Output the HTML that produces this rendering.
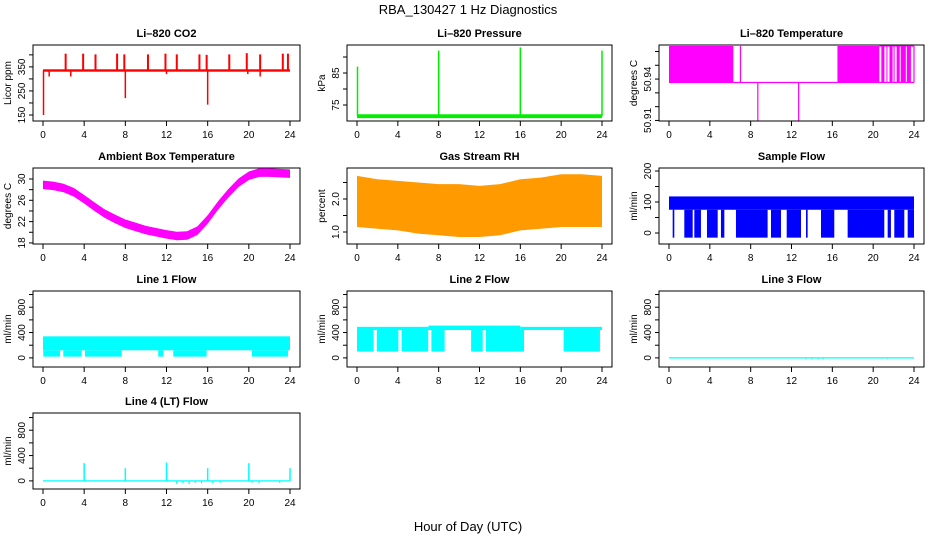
<!DOCTYPE html>
<html><head><meta charset="utf-8"><style>
html,body{margin:0;padding:0;background:#fff;}
svg{display:block;font-family:"Liberation Sans",sans-serif;}
</style></head><body>
<svg id="chart" width="936" height="540" viewBox="0 0 936 540" xmlns="http://www.w3.org/2000/svg">
<text x="468" y="14" font-size="13" text-anchor="middle">RBA_130427  1 Hz Diagnostics</text>
<text x="468" y="531" font-size="13" text-anchor="middle">Hour of Day (UTC)</text>
</svg>
<script>
// ---- data ----
const xTicks = [0,4,8,12,16,20,24];
const co2Base = 335;
const co2SpikeHours = [2.2,3.9,5.1,7.2,7.9,10.2,11.9,13.0,15.2,15.9,18.1,19.8,21.1,23.3,23.8];
const co2SpikeVals = [405,405,402,405,402,402,405,402,402,400,402,407,402,405,405];
const co2DipHours = [0.05,0.6,2.7,8.0,12.0,16.0,19.9,21.1];
const co2DipVals = [150,310,310,220,320,193,320,310];
const presBase = 71.5;
const presSpikeHours = [0.05,8.0,16.0,24.0];
const presSpikeVals = [87,92,93,92];
const tempBlockStart = [0,16.5,20.8,21.3,21.6,22.0,22.3,22.7,23.3];
const tempBlockEnd = [6.3,20.6,21.1,21.4,21.9,22.1,22.6,23.2,23.7];
const tempBase = 50.9375;
const tempTop = 50.964;
const tempDipHours = [8.7,12.7];
const tempDipVals = [50.91,50.91];
const tempUpHours = [7.0,24.0];
const tempUpVals = [50.964,50.964];
const ambHours = [0,1,2,3,4,5,6,7,8,9,10,11,12,13,14,15,16,17,18,19,20,21,22,23,24];
const ambVals = [28.9,28.7,28.3,27.5,26.2,24.8,23.5,22.5,21.6,21.0,20.4,20.0,19.6,19.3,19.4,20.3,22.4,25.0,27.3,29.3,30.6,31.2,31.2,31.1,31.0];
const rhHours = [0,2,4,6,8,10,12,14,16,18,20,22,24];
const rhHi = [2.7,2.6,2.55,2.5,2.45,2.45,2.4,2.45,2.6,2.65,2.75,2.75,2.7];
const rhLo = [1.15,1.1,1.05,0.95,0.9,0.85,0.85,0.9,1.05,1.1,1.15,1.15,1.15];
const sfHi = 118, sfLo = 75, sfMin = -15;
const sfDropStart = [0.36,1.5,2.48,3.72,5.09,6.56,9.99,11.53,13.42,14.89,17.5,21.42,22.07,23.38];
const sfDropEnd = [0.52,2.32,3.13,4.77,5.42,9.66,10.97,12.93,13.58,16.19,21.09,21.74,23.05,24.0];
const l1Hi = 340, l1Lo = 120, l1Min = 20;
const l1DropStart = [0.03,1.97,4.08,11.2,12.66,20.3];
const l1DropEnd = [1.65,3.76,7.65,11.7,15.9,23.8];
const l2HiHours = [0,7,16,24];
const l2HiVals = [490,510,490,480];
const l2BandLo = 440, l2Min = 100;
const l2DropStart = [0,1.94,4.37,7.29,11.18,12.63,20.24];
const l2DropEnd = [1.62,4.05,6.97,8.58,12.31,16.36,23.8];
const l4SpikeHours = [4.0,8.0,12.0,16.0,20.0,24.0];
const l4SpikeVals = [280,200,290,200,280,200];
const l4DipHours = [13.0,13.6,14.2,14.8,15.4,16.5,17.2,20.3,21.0,23.0];
const l4DipVals = [-50,-40,-50,-30,-40,-40,-30,-30,-40,-30];
const l3DipHours = [13.4,14.0,14.6,15.1,21.4];
const l3DipVals = [-20,-20,-20,-20,-15];

// ---- layout ----
const NS = "http://www.w3.org/2000/svg";
const svg = document.getElementById('chart');
const colL = [33,347,659], colR = [300,612,924];
const rowT = [45,168,291,413], BH = 76;
function el(tag, attrs, parent, text){
  const e = document.createElementNS(NS, tag);
  for (const k in attrs) e.setAttribute(k, attrs[k]);
  if (text !== undefined) e.textContent = text;
  (parent||svg).appendChild(e);
  return e;
}
function panel(name, col, row, title, ylab, yMin, yMax, ticks, labels){
  const g = el('g', {});
  
  
  const L = colL[col], R = colR[col], T = rowT[row], B = T + BH;
  const xs = h => L + 10 + h * (R - L - 20) / 24;
  const ys = v => B - (v - yMin) / (yMax - yMin) * BH;
  const t = el('text', {x:(L+R)/2, y:T-8, 'font-size':11, 'font-weight':'bold', 'text-anchor':'middle'}, g, title);
  
  
  const box = el('rect', {x:L, y:T, width:R-L, height:BH, fill:'none', stroke:'#000', 'stroke-width':1}, g);
  
  
  const xa = el('g', {}, g);
  
  
  el('line', {x1:xs(0), x2:xs(24), y1:B, y2:B, stroke:'#000'}, xa);
  xTicks.forEach(h => {
    el('line', {x1:xs(h), x2:xs(h), y1:B, y2:B+5, stroke:'#000'}, xa);
    el('text', {x:xs(h), y:B+17, 'font-size':10, 'text-anchor':'middle'}, xa, String(h));
  });
  const ya = el('g', {}, g);
  
  
  el('line', {x1:L, x2:L, y1:ys(ticks[0]), y2:ys(ticks[ticks.length-1]), stroke:'#000'}, ya);
  ticks.forEach((v,i) => {
    el('line', {x1:L-4, x2:L, y1:ys(v), y2:ys(v), stroke:'#000'}, ya);
    if (labels[i]) {
      const yy = ys(v);
      el('text', {x:L-8, y:yy, 'font-size':10, 'text-anchor':'middle', transform:`rotate(-90 ${L-8} ${yy})`}, ya, labels[i]);
    }
  });
  const yl = el('text', {x:L-22, y:(T+B)/2, 'font-size':10, 'text-anchor':'middle', transform:`rotate(-90 ${L-22} ${(T+B)/2})`}, g, ylab);
  
  
  const marks = el('g', {}, g);
  
  
  return {xs, ys, marks};
}
function vline(p, h, v1, v2, color, w){
  el('line', {x1:p.xs(h), x2:p.xs(h), y1:p.ys(v1), y2:p.ys(v2), stroke:color, 'stroke-width':w||1.5}, p.marks);
}
function hband(p, h1, h2, v1, v2, fill){
  el('rect', {x:p.xs(h1), y:p.ys(v2), width:p.xs(h2)-p.xs(h1), height:p.ys(v1)-p.ys(v2), fill:fill}, p.marks);
}

let p = panel('co2-panel',0,0,'Li\u2013820 CO2','Licor ppm',125,441,[150,200,250,300,350,400],['150','','250','','350','']);
hband(p,0,24,co2Base-5,co2Base+5,'#ff0000');
co2SpikeHours.forEach((h,i)=>vline(p,h,co2Base,co2SpikeVals[i],'#ff0000',2));
co2DipHours.forEach((h,i)=>vline(p,h,co2Base,co2DipVals[i],'#ff0000',1.5));

p = panel('pressure-panel',1,0,'Li\u2013820 Pressure','kPa',70,93.75,[75,80,85,90],['75','','85','']);
hband(p,0,24,presBase-0.6,presBase+0.6,'#00ee00');
presSpikeHours.forEach((h,i)=>vline(p,h,presBase,presSpikeVals[i],'#00ee00',1.5));

p = panel('li820-temp-panel',2,0,'Li\u2013820 Temperature','degrees C',50.9096,50.9647,[50.91,50.92,50.93,50.94,50.95,50.96],['50.91','','','50.94','','']);
el('line',{x1:p.xs(0),x2:p.xs(24),y1:p.ys(tempBase),y2:p.ys(tempBase),stroke:'#ff00ff','stroke-width':1.2},p.marks);
tempBlockStart.forEach((s,i)=>hband(p,s,tempBlockEnd[i],tempBase,tempTop,'#ff00ff'));
el('line',{x1:p.xs(20.6),x2:p.xs(24),y1:p.ys(tempTop),y2:p.ys(tempTop),stroke:'#ff00ff','stroke-width':1.2},p.marks);
tempDipHours.forEach((h,i)=>vline(p,h,tempBase,tempDipVals[i],'#ff00ff',1.2));
tempUpHours.forEach((h,i)=>vline(p,h,tempBase,tempUpVals[i],'#ff00ff',1.2));

p = panel('ambient-temp-panel',0,1,'Ambient Box Temperature','degrees C',17.8,32.06,[18,20,22,24,26,28,30],['18','','22','','26','','30']);
{
  let d = ambHours.map((h,i)=>`${p.xs(h)},${p.ys(ambVals[i]+0.8)}`).join(' ');
  let d2 = ambHours.slice().reverse().map((h,j)=>{const i=ambHours.length-1-j;return `${p.xs(h)},${p.ys(ambVals[i]-0.8)}`;}).join(' ');
  el('polygon',{points:d+' '+d2,fill:'#ff00ff'},p.marks);
}

p = panel('rh-panel',1,1,'Gas Stream RH','percent',0.636,2.94,[1.0,1.5,2.0,2.5],['1.0','','2.0','']);
{
  let d = rhHours.map((h,i)=>`${p.xs(h)},${p.ys(rhHi[i])}`).join(' ');
  let d2 = rhHours.slice().reverse().map((h,j)=>{const i=rhHours.length-1-j;return `${p.xs(h)},${p.ys(rhLo[i])}`;}).join(' ');
  el('polygon',{points:d+' '+d2,fill:'#ff9a00'},p.marks);
}

p = panel('sample-flow-panel',2,1,'Sample Flow','ml/min',-35.5,209.7,[0,50,100,150,200],['0','','100','','200']);
hband(p,0,24,sfLo,sfHi,'#0000ff');
sfDropStart.forEach((s,i)=>hband(p,s,sfDropEnd[i],sfMin,sfLo,'#0000ff'));

const flowTicks=[0,200,400,600,800,1000], flowLabels=['0','','400','','800',''];
p = panel('line1-flow-panel',0,2,'Line 1 Flow','ml/min',-144,1056,flowTicks,flowLabels);
hband(p,0,24,l1Lo,l1Hi,'#00ffff');
l1DropStart.forEach((s,i)=>hband(p,s,l1DropEnd[i],l1Min,l1Lo,'#00ffff'));

p = panel('line2-flow-panel',1,2,'Line 2 Flow','ml/min',-144,1056,flowTicks,flowLabels);
for(let i=0;i<l2HiHours.length-1;i++) hband(p,l2HiHours[i],l2HiHours[i+1],l2BandLo,l2HiVals[i],'#00ffff');
l2DropStart.forEach((s,i)=>hband(p,s,l2DropEnd[i],l2Min,l2BandLo,'#00ffff'));

p = panel('line3-flow-panel',2,2,'Line 3 Flow','ml/min',-144,1056,flowTicks,flowLabels);
hband(p,0,24,-10,10,'#00ffff');
l3DipHours.forEach((h,i)=>vline(p,h,0,l3DipVals[i],'#00ffff',1));

p = panel('line4-flow-panel',0,3,'Line 4 (LT) Flow','ml/min',-128,1072,flowTicks,flowLabels);
hband(p,0,24,-10,10,'#00ffff');
l4SpikeHours.forEach((h,i)=>vline(p,h,0,l4SpikeVals[i],'#00ffff',1.5));
l4DipHours.forEach((h,i)=>vline(p,h,0,l4DipVals[i],'#00ffff',1.2));
</script>
</body></html>
